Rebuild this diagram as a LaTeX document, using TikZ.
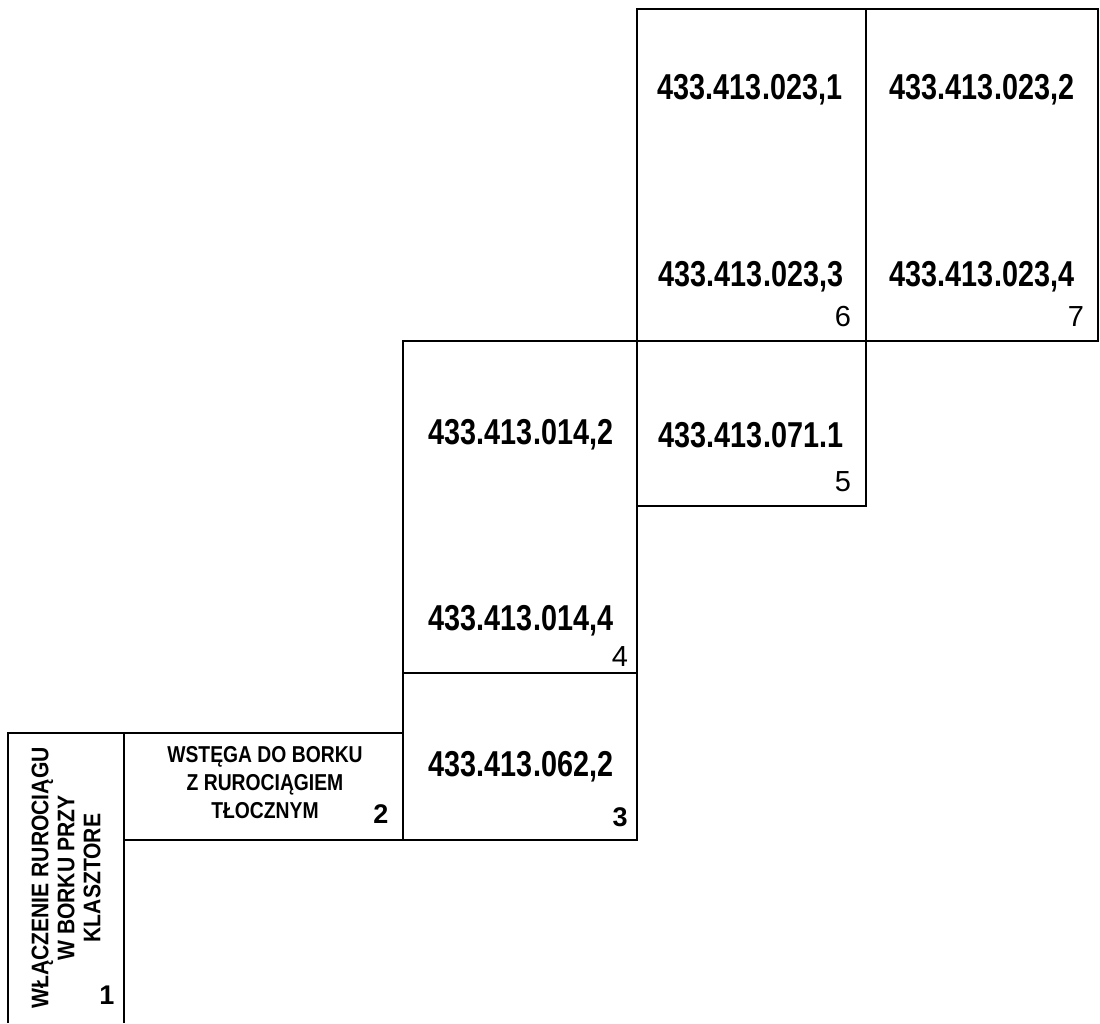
\documentclass[tikz,border=0pt]{standalone}
\usepackage{fontspec}
\setmainfont{Liberation Sans}
\newfontfamily\narrowfont[FakeStretch=0.80]{Liberation Sans}
\newfontfamily\textnarrow[FakeStretch=0.84]{Liberation Sans}
\newfontfamily\sidenarrow[FakeStretch=0.88]{Liberation Sans}
\begin{document}
\begin{tikzpicture}[x=1pt,y=-1pt,
  frame/.style={line width=1.6pt, black},
  code/.style={inner sep=0pt, font=\narrowfont\bfseries\fontsize{36}{40}\selectfont},
  title/.style={inner sep=0pt, align=center, font=\textnarrow\bfseries\fontsize{23}{28}\selectfont},
  numlbl/.style={inner sep=0pt, font=\fontsize{29}{32}\selectfont},
  numbold/.style={inner sep=0pt, font=\bfseries\fontsize{27}{30}\selectfont}]
\useasboundingbox (0,0) rectangle (1100,1023);
% frames
\draw[frame] (8,1023) -- (8,733) -- (124,733) -- (124,1023);
\draw[frame] (124,733) rectangle (403,840);
\draw[frame] (403,673) rectangle (637,840);
\draw[frame] (403,341) rectangle (637,673);
\draw[frame] (637,341) rectangle (866,506);
\draw[frame] (637,9) rectangle (866,341);
\draw[frame] (866,9) rectangle (1098,341);
% box 7 / 6
\node[code] (c231) at (750,90) {433.413.023,1};
\node[code] (c232) at (982,90) {433.413.023,2};
\node[code] (c233) at (751,277) {433.413.023,3};
\node[code] (c234) at (982,277) {433.413.023,4};
\node[numlbl] (n6) at (843,317) {6};
\node[numlbl] (n7) at (1076,317) {7};
% box 4 / 5
\node[code] (c142) at (521,435) {433.413.014,2};
\node[code] (c711) at (751,435) {433.413.071.1};
\node[numlbl] (n5) at (843,482) {5};
\node[code] (c144) at (521,621) {433.413.014,4};
\node[numlbl] (n4) at (620,657) {4};
% box 3
\node[code] (c622) at (521,767) {433.413.062,2};
\node[numbold] (n3) at (620,817) {3};
% box 2
\node[title] (t2) at (265,783) {WSTĘGA DO BORKU\\Z RUROCIĄGIEM\\TŁOCZNYM};
\node[numbold] (n2) at (381,814) {2};
% box 1
\node[title, rotate=90, font=\sidenarrow\bfseries\fontsize{24}{26}\selectfont] (t1) at (66,878) {WŁĄCZENIE RUROCIĄGU\\W BORKU PRZY\\KLASZTORE};
\node[numbold] (n1) at (107,995) {1};
\end{tikzpicture}
\end{document}
